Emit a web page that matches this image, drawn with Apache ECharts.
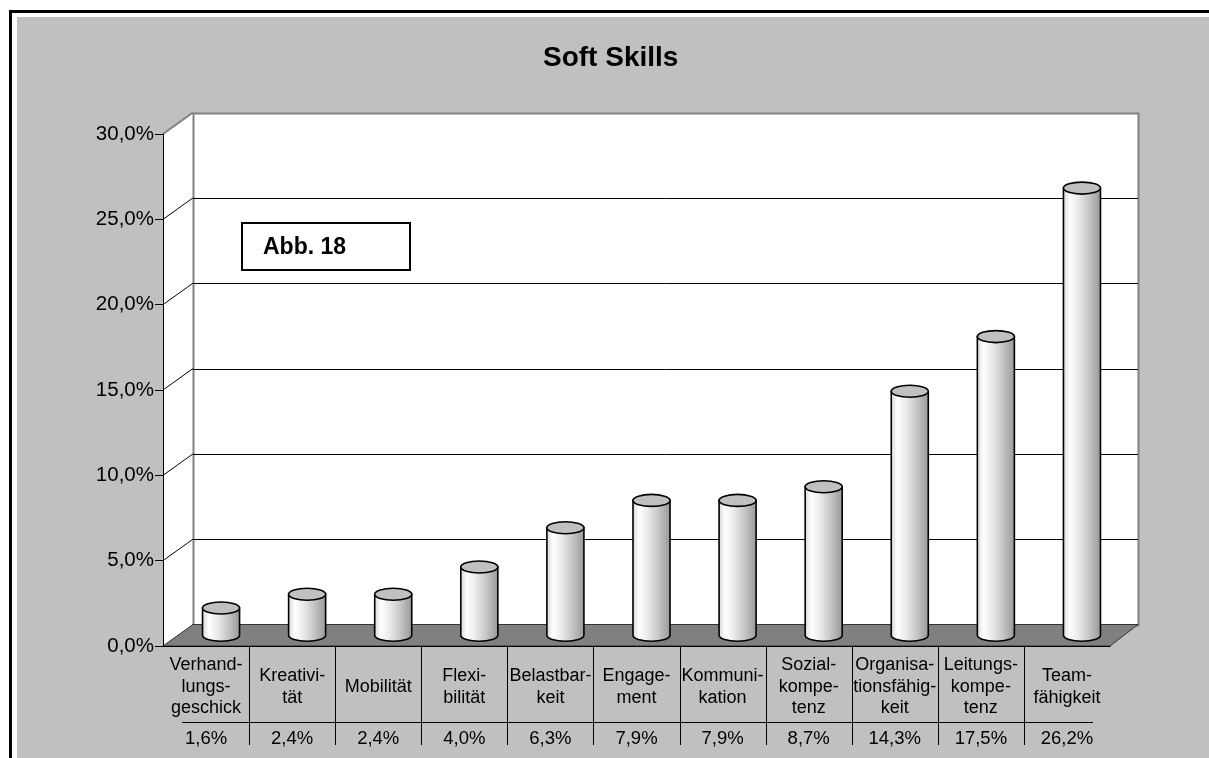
<!DOCTYPE html>
<html>
<head>
<meta charset="utf-8">
<script src="https://cdn.jsdelivr.net/npm/echarts@6/dist/echarts.min.js"></script>
<style>
  html, body { margin: 0; padding: 0; background: #fff; }
  #chart { width: 1209px; height: 758px; }
</style>
</head>
<body>
<div id="chart"></div>
<script>
// Daten
const categories = [
  'Verhand-\nlungs-\ngeschick',
  'Kreativi-\ntät',
  'Mobilität',
  'Flexi-\nbilität',
  'Belastbar-\nkeit',
  'Engage-\nment',
  'Kommuni-\nkation',
  'Sozial-\nkompe-\ntenz',
  'Organisa-\ntionsfähig-\nkeit',
  'Leitungs-\nkompe-\ntenz',
  'Team-\nfähigkeit'
]
const values = [1.6, 2.4, 2.4, 4.0, 6.3, 7.9, 7.9, 8.7, 14.3, 17.5, 26.2]
const yTicks = [0, 5, 10, 15, 20, 25, 30]

const FONT = "'Liberation Sans', Arial, sans-serif"
const DX = 30
const DY = -21.5

const pct = (v) => v.toFixed(1).replace('.', ',') + '%'
const px = (v) => Math.round(v) + 0.5

// 3D-Rahmen: Seitenwand, Rückwand, Boden, Tabellenlinien
const renderFrame = (params, api) => {
  const bw = api.size([1, 0])[0]
  const p0 = api.coord([0, 0])
  const x0 = p0[0] - bw / 2
  const x1 = x0 + bw * categories.length
  const y0 = p0[1]
  const yTop = api.coord([0, yTicks[yTicks.length - 1]])[1]
  const bx0 = x0 + DX
  const bx1 = x1 + DX - 2
  const children = []

  children.push({
    type: 'polygon',
    shape: { points: [[x0, yTop], [bx0, yTop + DY], [bx0, y0 + DY], [x0, y0]] },
    style: { fill: '#fff' }
  })
  children.push({
    type: 'rect',
    shape: { x: px(bx0), y: px(yTop + DY), width: Math.round(bx1 - bx0), height: Math.round(y0 - yTop) },
    style: { fill: '#fff', stroke: '#808080', lineWidth: 2 }
  })
  yTicks.slice(1, -1).forEach((t) => {
    const y = api.coord([0, t])[1]
    children.push({
      type: 'line',
      shape: { x1: x0, y1: y, x2: bx0, y2: y + DY },
      style: { stroke: '#000', lineWidth: 1 }
    })
    children.push({
      type: 'line',
      shape: { x1: bx0, y1: px(y + DY), x2: bx1, y2: px(y + DY) },
      style: { stroke: '#000', lineWidth: 1 }
    })
  })
  children.push({
    type: 'line',
    shape: { x1: x0, y1: yTop, x2: bx0, y2: yTop + DY },
    style: { stroke: '#808080', lineWidth: 2 }
  })
  children.push({
    type: 'polygon',
    shape: { points: [[x0, y0], [x1, y0], [bx1, y0 + DY], [bx0, y0 + DY]] },
    style: { fill: '#808080', stroke: '#333', lineWidth: 1 }
  })

  // Datentabelle
  for (let k = 1; k < categories.length; k++) {
    const x = px(x0 + k * bw)
    children.push({
      type: 'line',
      shape: { x1: x, y1: y0, x2: x, y2: y0 + 99 },
      style: { stroke: '#000', lineWidth: 1 }
    })
  }
  children.push({
    type: 'line',
    shape: { x1: x0 + 19, y1: px(y0 + 76), x2: x1 - 17, y2: px(y0 + 76) },
    style: { stroke: '#000', lineWidth: 1 }
  })

  return { type: 'group', children }
}

// Zylinder
const renderCylinder = (params, api) => {
  const bw = api.size([1, 0])[0]
  const base = api.coord([api.value(0), 0])
  const top = api.coord([api.value(0), api.value(1)])
  const rx = bw * 0.215
  const ry = 6
  const cx = base[0] + DX / 2
  const yb = base[1] + DY / 2
  const yt = top[1] + DY / 2
  const l = cx - rx
  const r = cx + rx

  return {
    type: 'group',
    children: [
      {
        type: 'path',
        shape: {
          pathData: `M ${l} ${yt} L ${l} ${yb} A ${rx} ${ry} 0 0 0 ${r} ${yb} L ${r} ${yt} Z`
        },
        style: {
          fill: {
            type: 'linear', x: 0, y: 0, x2: 1, y2: 0,
            colorStops: [
              { offset: 0, color: '#d4d4d4' },
              { offset: 0.18, color: '#ffffff' },
              { offset: 0.42, color: '#e8e8e8' },
              { offset: 0.68, color: '#c6c6c6' },
              { offset: 0.88, color: '#a8a8a8' },
              { offset: 1, color: '#969696' }
            ]
          },
          stroke: '#000',
          lineWidth: 1.6
        }
      },
      {
        type: 'path',
        shape: {
          pathData: `M ${l} ${yt} A ${rx} ${ry} 0 1 0 ${r} ${yt} A ${rx} ${ry} 0 1 0 ${l} ${yt} Z`
        },
        style: { fill: '#c0c0c0', stroke: '#000', lineWidth: 1.6 }
      }
    ]
  }
}

const chart = echarts.init(document.getElementById('chart'))

const option = {
  animation: false,
  backgroundColor: '#c0c0c0',
  textStyle: { fontFamily: FONT },
  title: {
    text: 'Soft Skills',
    left: 543,
    top: 44,
    padding: 0,
    textStyle: { fontFamily: FONT, fontSize: 28, fontWeight: 'bold', color: '#000' }
  },
  graphic: [
    { type: 'rect', z: 100, shape: { x: 0, y: 0, width: 1209, height: 17 }, style: { fill: '#fff' } },
    { type: 'rect', z: 100, shape: { x: 0, y: 0, width: 17, height: 758 }, style: { fill: '#fff' } },
    {
      type: 'polyline', z: 101,
      shape: { points: [[10.5, 758], [10.5, 11.5], [1209, 11.5]] },
      style: { stroke: '#000', lineWidth: 3, fill: null }
    },
    {
      type: 'group', z: 100, left: 241, top: 222,
      children: [
        { type: 'rect', z: 100, shape: { x: 0, y: 0, width: 168, height: 47 }, style: { fill: '#fff', stroke: '#000', lineWidth: 2 } },
        {
          type: 'text', z: 101, x: 21, y: 25,
          style: { text: 'Abb. 18', fontFamily: FONT, fontSize: 23, fontWeight: 'bold', fill: '#000', verticalAlign: 'middle' }
        }
      ]
    }
  ],
  grid: { left: 163, right: 99, top: 134, bottom: 112, containLabel: false },
  xAxis: [
    {
      type: 'category',
      data: categories,
      z: 5,
      axisLine: { lineStyle: { color: '#000', width: 1 } },
      axisTick: { show: false },
      axisLabel: {
        interval: 0,
        margin: 41,
        verticalAlign: 'middle',
        fontSize: 18,
        lineHeight: 21.5,
        color: '#000',
        fontFamily: FONT
      }
    },
    {
      type: 'category',
      data: categories,
      position: 'bottom',
      z: 5,
      axisLine: { show: false },
      axisTick: { show: false },
      axisLabel: {
        interval: 0,
        margin: 93,
        verticalAlign: 'middle',
        fontSize: 18.5,
        color: '#000',
        fontFamily: FONT,
        formatter: (v, i) => pct(values[i])
      }
    }
  ],
  yAxis: {
    type: 'value',
    min: 0,
    max: 30,
    interval: 5,
    z: 5,
    axisLine: { show: true, lineStyle: { color: '#000', width: 1 } },
    axisTick: { show: true, length: 8, lineStyle: { color: '#000' } },
    splitLine: { show: false },
    axisLabel: {
      margin: 9,
      fontSize: 20.5,
      color: '#000',
      fontFamily: FONT,
      formatter: (v) => pct(v)
    }
  },
  series: [
    {
      name: 'Rahmen',
      type: 'custom',
      z: 1,
      silent: true,
      renderItem: renderFrame,
      data: [[0, 0]]
    },
    {
      name: 'Soft Skills',
      type: 'custom',
      z: 3,
      renderItem: renderCylinder,
      encode: { x: 0, y: 1 },
      data: values.map((v, i) => [i, v])
    }
  ]
}

chart.setOption(option)
</script>
</body>
</html>
